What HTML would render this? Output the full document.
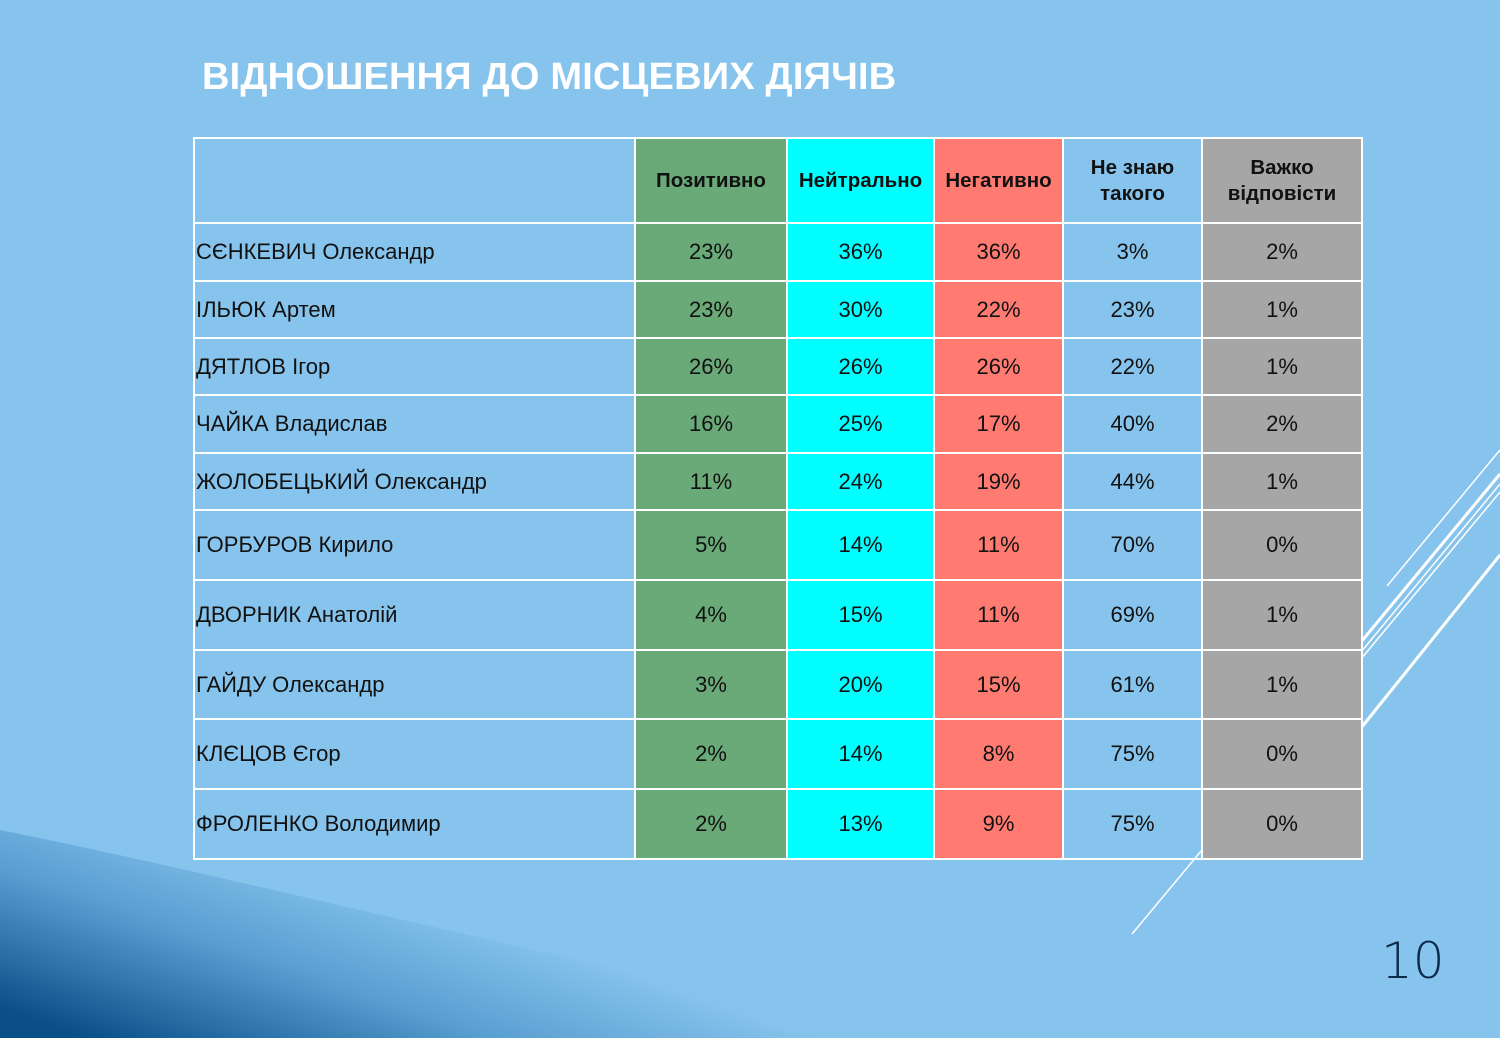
<!DOCTYPE html>
<html><head><meta charset="utf-8">
<style>
body{margin:0;width:1500px;height:1038px;overflow:hidden;background:#87c4ed;font-family:"Liberation Sans",sans-serif;position:relative}
svg.bg{position:absolute;left:0;top:0}
h1{position:absolute;left:202px;top:56px;margin:0;color:#fff;font-size:38px;font-weight:bold;letter-spacing:0.2px}
table{position:absolute;left:193px;top:137px;border-collapse:collapse;width:1168px;table-layout:fixed}
td,th{border:2px solid #fff;padding:0;text-align:center;font-size:22px;color:#111;font-weight:normal}
th{font-weight:bold;font-size:20.5px;line-height:26px}
td.n{text-align:left;padding-left:1px}
.g{background:#6aaa78}.c{background:#00ffff}.r{background:#ff7b72}.k{background:#a6a6a6}
.num{position:absolute;left:1381px;top:932px;font-size:50px;color:#0b2a4a;font-family:"DejaVu Sans",sans-serif;font-weight:200}
</style></head><body>
<svg class="bg" width="1500" height="1038">
<defs><linearGradient id="gw" gradientUnits="userSpaceOnUse" x1="150" y1="1060" x2="230" y2="830">
<stop offset="0" stop-color="#0a4f88"/><stop offset="0.55" stop-color="#5a9fd2"/><stop offset="1" stop-color="#87c4ed"/></linearGradient></defs>
<path d="M0,830 C250,880 550,960 950,1038 L0,1038 Z" fill="url(#gw)"/>
<g stroke="#fff" fill="none">
<line x1="1387" y1="586" x2="1500" y2="450" stroke-width="1.5"/>
<line x1="1361" y1="642" x2="1500" y2="474" stroke-width="3"/>
<line x1="1361" y1="652" x2="1500" y2="484" stroke-width="1.5"/>
<line x1="1132" y1="934" x2="1500" y2="492" stroke-width="1.5"/>
<line x1="1361" y1="728" x2="1500" y2="555" stroke-width="3"/>
</g></svg>
<h1>ВІДНОШЕННЯ ДО МІСЦЕВИХ ДІЯЧІВ</h1>
<table>
<colgroup><col style="width:441px"><col style="width:152px"><col style="width:147px"><col style="width:129px"><col style="width:139px"><col style="width:160px"></colgroup>
<tr style="height:85px"><th></th><th class="g">Позитивно</th><th class="c">Нейтрально</th><th class="r">Негативно</th><th>Не знаю<br>такого</th><th class="k">Важко<br>відповісти</th></tr>
<tr style="height:58px"><td class="n">СЄНКЕВИЧ Олександр</td><td class="g">23%</td><td class="c">36%</td><td class="r">36%</td><td>3%</td><td class="k">2%</td></tr>
<tr style="height:57px"><td class="n">ІЛЬЮК Артем</td><td class="g">23%</td><td class="c">30%</td><td class="r">22%</td><td>23%</td><td class="k">1%</td></tr>
<tr style="height:57px"><td class="n">ДЯТЛОВ Ігор</td><td class="g">26%</td><td class="c">26%</td><td class="r">26%</td><td>22%</td><td class="k">1%</td></tr>
<tr style="height:58px"><td class="n">ЧАЙКА Владислав</td><td class="g">16%</td><td class="c">25%</td><td class="r">17%</td><td>40%</td><td class="k">2%</td></tr>
<tr style="height:57px"><td class="n">ЖОЛОБЕЦЬКИЙ Олександр</td><td class="g">11%</td><td class="c">24%</td><td class="r">19%</td><td>44%</td><td class="k">1%</td></tr>
<tr style="height:70px"><td class="n">ГОРБУРОВ Кирило</td><td class="g">5%</td><td class="c">14%</td><td class="r">11%</td><td>70%</td><td class="k">0%</td></tr>
<tr style="height:70px"><td class="n">ДВОРНИК Анатолій</td><td class="g">4%</td><td class="c">15%</td><td class="r">11%</td><td>69%</td><td class="k">1%</td></tr>
<tr style="height:69px"><td class="n">ГАЙДУ Олександр</td><td class="g">3%</td><td class="c">20%</td><td class="r">15%</td><td>61%</td><td class="k">1%</td></tr>
<tr style="height:70px"><td class="n">КЛЄЦОВ Єгор</td><td class="g">2%</td><td class="c">14%</td><td class="r">8%</td><td>75%</td><td class="k">0%</td></tr>
<tr style="height:70px"><td class="n">ФРОЛЕНКО Володимир</td><td class="g">2%</td><td class="c">13%</td><td class="r">9%</td><td>75%</td><td class="k">0%</td></tr>
</table>
<div class="num">10</div>
</body></html>
